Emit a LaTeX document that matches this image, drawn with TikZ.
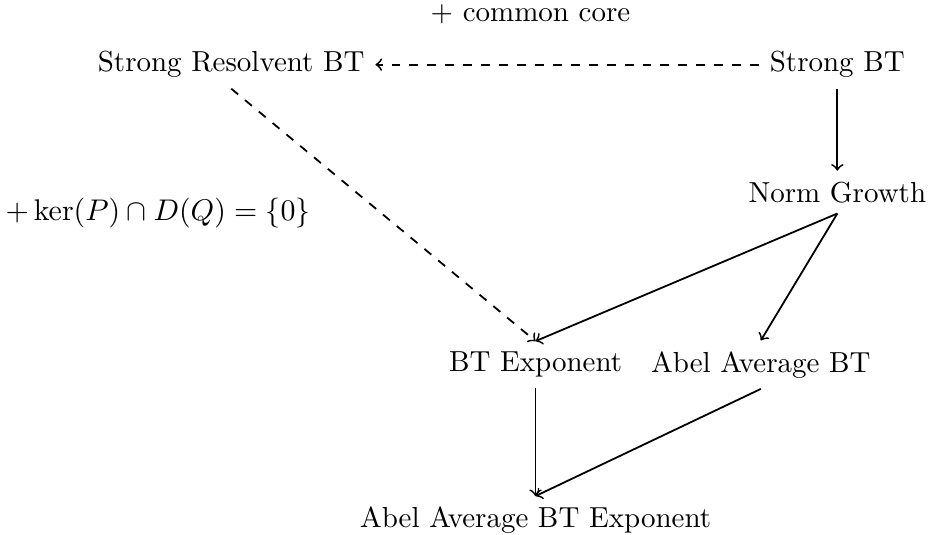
\documentclass[tikz,border=0pt]{standalone}
\usetikzlibrary{calc}
\begin{document}
\begin{tikzpicture}[semithick,every node/.style={font=\fontsize{9.7}{12}\selectfont}]
\useasboundingbox (0,0) rectangle (10.94,-6.29);
\node (cc) at (6.24,-0.17) {+ common core};
\node (srbt) at (2.72,-0.76) {Strong Resolvent BT};
\node (sbt) at (9.85,-0.76) {Strong BT};
\node (ng) at (9.85,-2.26) {Norm Growth};
\node (ker) at (1.86,-2.51) {$+\ker(P)\cap D(Q)=\{0\}$};
\node (bte) at (6.30,-4.29) {BT Exponent};
\node (aabt) at (8.95,-4.29) {Abel Average BT};
\node (aabte) at (6.30,-6.12) {Abel Average BT Exponent};
\draw[->,dashed] (sbt) -- (srbt);
\draw[->,dashed] (srbt.south) -- (bte.north);
\draw[->] (sbt) -- (ng);
\draw[->] (ng.south) -- (bte.north);
\draw[->] (ng.south) -- (aabt.north);
\draw[->] (bte) -- (aabte);
\draw[->] (aabt.south) -- (aabte.north);
\end{tikzpicture}
\end{document}
